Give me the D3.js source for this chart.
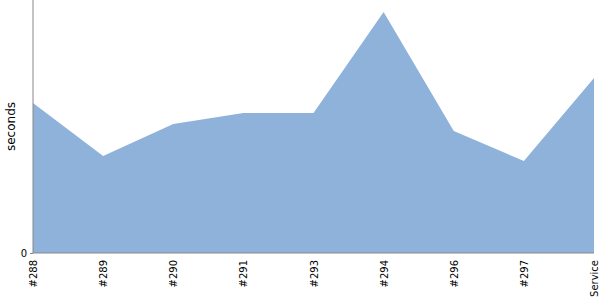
<!DOCTYPE html>
<html>
<head>
<meta charset="utf-8">
<script src="https://cdn.jsdelivr.net/npm/d3@7"></script>
<style>
  body { margin: 0; background: #fff; }
  .axis path, .axis line { stroke: #888; }
  .axis text { fill: #000; font-size: 10px; font-family: "DejaVu Sans"; }
  .ylabel { font-family: "DejaVu Sans"; font-size: 12px; }
</style>
</head>
<body>
<svg id="chart" width="600" height="300"></svg>
<script>
// build labels and their durations (seconds)
var builds = ["#288", "#289", "#290", "#291", "#293", "#294", "#296", "#297", "Service"];
var seconds = [593, 383, 510, 553, 553, 953, 482, 364, 692];
var yTicks = [0];

var margin = {top: 0, right: 6, bottom: 47, left: 33};
var width = 600 - margin.left - margin.right;
var height = 300 - margin.top - margin.bottom;

var svg = d3.select("#chart");
var g = svg.append("g").attr("transform", "translate(" + margin.left + "," + margin.top + ")");

var x = d3.scalePoint().domain(builds).range([0, 561]);
var y = d3.scaleLinear().domain([0, 1000]).range([height, 0]);

var data = builds.map(function(b, i) { return {label: b, value: seconds[i]}; });

var area = d3.area()
  .x(function(d) { return x(d.label); })
  .y0(height)
  .y1(function(d) { return y(d.value); });

g.append("path")
  .datum(data)
  .attr("fill", "#8fb2da")
  .attr("d", area);

// y axis, only the zero tick is labelled
var yAxis = g.append("g")
  .attr("class", "axis")
  .call(d3.axisLeft(y).tickValues(yTicks).tickSize(3).tickSizeOuter(0));
yAxis.select(".domain").attr("d", "M0,0V" + height);
yAxis.attr("font-family", null).attr("font-size", null);

var xAxis = g.append("g")
  .attr("class", "axis")
  .attr("transform", "translate(0," + height + ")")
  .call(d3.axisBottom(x).tickSize(0).tickSizeOuter(0));
xAxis.attr("font-family", null).attr("font-size", null);
xAxis.select(".domain").attr("d", "M0,0H" + x("Service"));
xAxis.selectAll("text")
  .attr("transform", "rotate(-90)")
  .attr("text-anchor", "end")
  .attr("x", -7)
  .attr("y", 0)
  .attr("dy", "0.35em");

svg.append("text")
  .attr("class", "ylabel")
  .attr("transform", "translate(15," + (height / 2) + ") rotate(-90)")
  .attr("text-anchor", "middle")
  .text("seconds");
</script>
</body>
</html>
